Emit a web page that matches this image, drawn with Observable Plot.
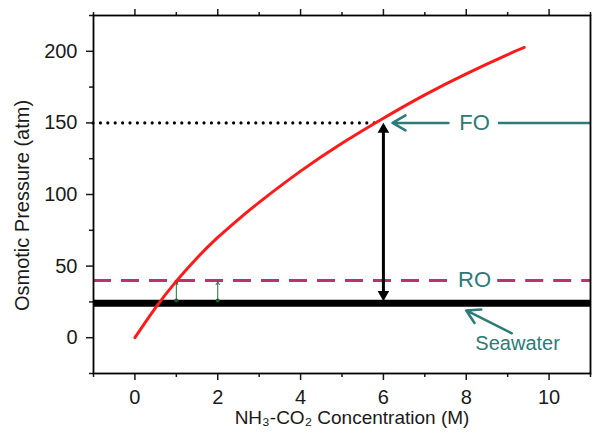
<!DOCTYPE html>
<html><head><meta charset="utf-8">
<script src="https://cdn.jsdelivr.net/npm/d3@7"></script>
<script src="https://cdn.jsdelivr.net/npm/@observablehq/plot@0.6"></script>
<style>body{margin:0;background:#fff}</style>
</head><body><div id="chart"></div>
<script>
// NH3-CO2 concentration (M) and osmotic pressure (atm) of the draw solution
const concentration = [0, 0.5, 1, 1.5, 2, 2.5, 3, 4, 5, 6, 7, 8, 9, 9.4];
const pressure = [0, 21, 39.5, 55.7, 70, 82.7, 94.5, 116.3, 135.8, 153.3, 169.6, 184.3, 197.7, 202.7];
// reference levels (atm)
const seawaterLevel = 24;
const roLevel = 40;
const foLevel = 150;
// annotation data
const foCrossX = 5.9;
const drivingArrowX = 6;
const roArrowX = [1, 2];
const roArrowFrom = 26;
const roArrowTo = 39;
// tick values
const xMajor = [0, 2, 4, 6, 8, 10];
const xMinor = [-1, 1, 3, 5, 7, 9, 11];
const yMajor = [0, 50, 100, 150, 200];
const yMinor = [-25, 25, 75, 125, 175, 225];
const xTitle = "NH₃-CO₂ Concentration (M)";
const yTitle = "Osmotic Pressure (atm)";
const labelFO = "FO", labelRO = "RO", labelSW = "Seawater";

const curve = concentration.map((c, i) => ({c, p: pressure[i]}));
const teal = "#2b7b78";
const roColor = "#b8336f";
const ink = "#1a1a1a";
const none = () => "";

const chart = Plot.plot({
  width: 592, height: 435,
  marginLeft: 93, marginRight: 2, marginTop: 15, marginBottom: 62,
  style: {fontFamily: "'Liberation Sans', Arial, sans-serif", background: "#fff", color: ink},
  x: {domain: [-1, 11]},
  y: {domain: [-25, 225]},
  marks: [
    // seawater
    Plot.ruleY([seawaterLevel], {x1: -1, x2: 11, stroke: "#000", strokeWidth: 7}),
    // RO dashed (broken around label)
    Plot.ruleY([roLevel], {x1: -1, x2: 7.58, stroke: roColor, strokeWidth: 3, strokeDasharray: "18,10"}),
    Plot.ruleY([roLevel], {x1: 8.76, x2: 11, stroke: roColor, strokeWidth: 3, strokeDasharray: "18,10"}),
    // FO dotted
    Plot.ruleY([foLevel], {x1: -1, x2: foCrossX, stroke: "#000", strokeWidth: 3.2, strokeDasharray: "0,7.4", strokeLinecap: "round"}),
    // small RO arrows
    Plot.arrow(roArrowX, {x1: d => d, x2: d => d, y1: roArrowFrom, y2: roArrowTo, stroke: "#2f6b3c", strokeWidth: 1, headLength: 5}),
    Plot.dot(roArrowX, {x: d => d, y: roArrowFrom, r: 2, fill: "#1f5a2c"}),
    Plot.dot([roArrowX[0]], {x: d => d, y: roArrowTo, r: 2, fill: "#1f5a2c"}),
    // driving force double arrow (shaft + filled heads)
    Plot.ruleX([drivingArrowX], {y1: seawaterLevel + 6, y2: foLevel - 6, stroke: "#000", strokeWidth: 3}),
    Plot.dot([drivingArrowX], {x: d => d, y: foLevel - 4.6, symbol: "triangle", r: 4.3, fill: "#000"}),
    Plot.dot([drivingArrowX], {x: d => d, y: seawaterLevel + 6.2, symbol: "triangle", rotate: 180, r: 4.3, fill: "#000"}),
    // osmotic pressure curve
    Plot.line(curve, {x: "c", y: "p", stroke: "#ff1a1a", strokeWidth: 3, curve: "natural"}),
    // FO annotation
    Plot.arrow([0], {x1: 7.57, x2: 6.22, y1: foLevel, y2: foLevel, stroke: teal, strokeWidth: 2.5, headLength: 9}),
    Plot.ruleY([foLevel], {x1: 8.78, x2: 11, stroke: teal, strokeWidth: 2.5}),
    Plot.text([labelFO], {x: 8.2, y: foLevel, text: d => d, fill: teal, fontSize: 22}),
    Plot.text([labelRO], {x: 8.2, y: roLevel, text: d => d, fill: teal, fontSize: 22}),
    // seawater annotation
    Plot.arrow([0], {x1: 9.1, y1: 3.1, x2: 8.0, y2: 19, stroke: teal, strokeWidth: 2.5, headLength: 9}),
    Plot.text([labelSW], {x: 9.24, y: -4, text: d => d, fill: teal, fontSize: 20}),
    // axes
    Plot.axisX(xMajor, {anchor: "bottom", tickSize: 7, tickPadding: 9, fontSize: 20, strokeWidth: 1.5, label: null}),
    Plot.axisX(xMinor, {anchor: "bottom", tickSize: 4, tickFormat: none, strokeWidth: 1.5, label: null}),
    Plot.axisX(xMajor, {anchor: "top", tickSize: 7, tickFormat: none, strokeWidth: 1.5, label: null}),
    Plot.axisX(xMinor, {anchor: "top", tickSize: 4, tickFormat: none, strokeWidth: 1.5, label: null}),
    Plot.axisY(yMajor, {anchor: "left", tickSize: 7, tickPadding: 9, fontSize: 20, strokeWidth: 1.5, label: null}),
    Plot.axisY(yMinor, {anchor: "left", tickSize: 4, tickFormat: none, strokeWidth: 1.5, label: null}),
    Plot.frame({stroke: "#000", strokeWidth: 1.8}),
    Plot.text([xTitle], {frameAnchor: "bottom", dx: 10, dy: 50, text: d => d, fontSize: 19, fill: ink}),
    Plot.text([yTitle], {frameAnchor: "left", textAnchor: "middle", rotate: -90, dx: -71, dy: 11, text: d => d, fontSize: 20, fill: ink})
  ]
});
document.getElementById("chart").append(chart);
</script>
</body></html>
